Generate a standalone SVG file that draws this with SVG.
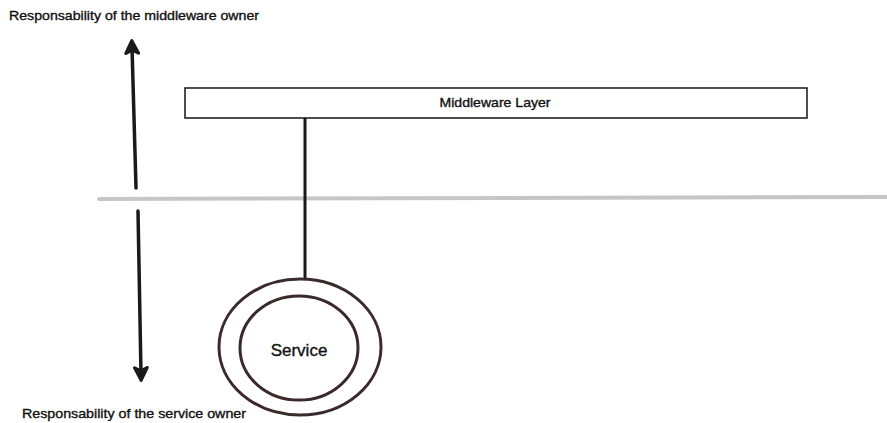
<svg xmlns="http://www.w3.org/2000/svg" width="887" height="423" viewBox="0 0 887 423">
  <style>
    .lbl { font-family: "Liberation Sans", Arial, sans-serif; fill: #111; stroke: #111; stroke-width: 0.35; }
    .ink { fill: none; stroke: #1a1a1a; stroke-linecap: round; stroke-linejoin: round; }
    .ring { fill: none; stroke: #3b2a2a; stroke-width: 3; }
  </style>
  <defs>
    <marker id="head" viewBox="0 0 10 10" refX="5" refY="5" markerWidth="4.5" markerHeight="4.5" orient="auto-start-reverse" markerUnits="strokeWidth">
      <path d="M1,1 L9,5 L1,9 L3,5 Z" fill="#1a1a1a" stroke="#1a1a1a" stroke-width="2" stroke-linejoin="round"/>
    </marker>
  </defs>
  <rect width="887" height="423" fill="#fff"/>

  <!-- boundary between the two responsibility zones -->
  <line x1="99" y1="199" x2="887" y2="197" stroke="#c6c6c6" stroke-width="4" stroke-linecap="round"/>

  <g id="label-middleware-owner">
    <text class="lbl" x="9" y="20" font-size="13" textLength="250" lengthAdjust="spacingAndGlyphs">Responsability of the middleware owner</text>
  </g>
  <g id="label-service-owner">
    <text class="lbl" x="22" y="418" font-size="13" textLength="224" lengthAdjust="spacingAndGlyphs">Responsability of the service owner</text>
  </g>

  <g id="middleware-layer">
    <rect x="185" y="88" width="622" height="30" fill="#fff" stroke="#222" stroke-width="1.6"/>
    <text class="lbl" x="495" y="107" font-size="13" text-anchor="middle" textLength="111" lengthAdjust="spacingAndGlyphs">Middleware Layer</text>
  </g>

  <g id="service">
    <ellipse class="ring" cx="300" cy="347" rx="81" ry="68"/>
    <ellipse class="ring" cx="299" cy="348" rx="59" ry="52"/>
    <text class="lbl" x="299" y="356" font-size="17" text-anchor="middle">Service</text>
  </g>

  <g id="connectors">
    <line class="ink" x1="305" y1="119" x2="305" y2="277" stroke-width="3"/>
    <line class="ink" x1="136" y1="188" x2="132" y2="47" stroke-width="3.5" marker-end="url(#head)"/>
    <line class="ink" x1="138" y1="211" x2="141" y2="374" stroke-width="3.5" marker-end="url(#head)"/>
  </g>
</svg>
